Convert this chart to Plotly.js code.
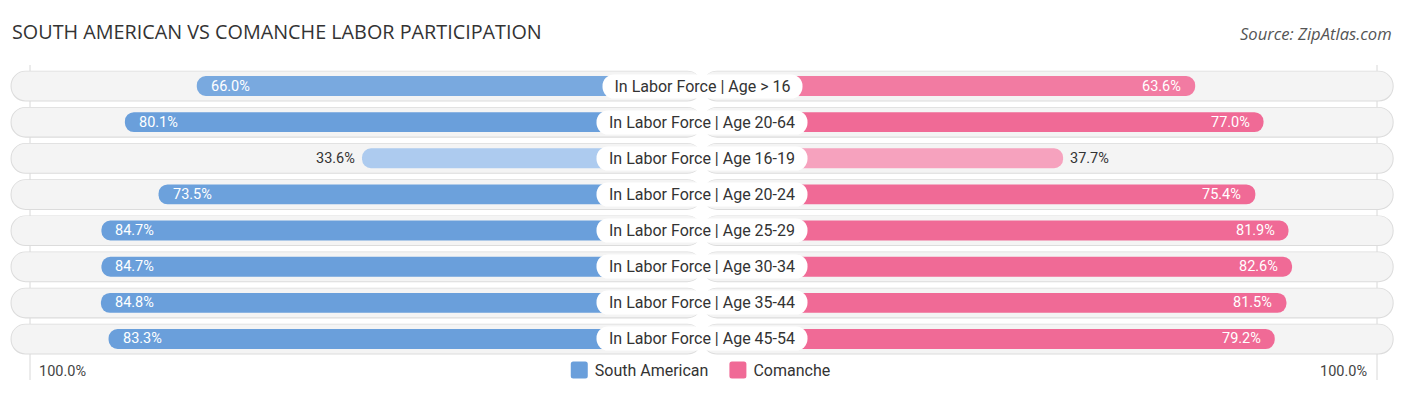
<!DOCTYPE html>
<html><head><meta charset="utf-8">
<script src="https://cdn.plot.ly/plotly-3.0.1.min.js"></script>
<style>html,body{margin:0;padding:0;background:#fff}#chart{width:1406px;height:395px}</style>
</head><body><div id="chart"></div>
<script>
// ---- data ----
const categories = [
  "In Labor Force | Age > 16",
  "In Labor Force | Age 20-64",
  "In Labor Force | Age 16-19",
  "In Labor Force | Age 20-24",
  "In Labor Force | Age 25-29",
  "In Labor Force | Age 30-34",
  "In Labor Force | Age 35-44",
  "In Labor Force | Age 45-54"
];
const southAmerican = [66.0, 80.1, 33.6, 73.5, 84.7, 84.7, 84.8, 83.3];
const comanche      = [63.6, 77.0, 37.7, 75.4, 81.9, 82.6, 81.5, 79.2];
const seriesNames = ["South American", "Comanche"];
const axisEndLabel = "100.0%";
const chartTitle = "SOUTH AMERICAN VS COMANCHE LABOR PARTICIPATION";
const sourceText = "Source: ZipAtlas.com";

// ---- style ----
const W = 1406, H = 395;
const PX_PER_UNIT = 5.1;       // pixels per percentage point
const CENTER_PX = 702.1;
const OFFSET = 33.08;          // hidden part of each bar under the centre label
const PILL_HALF = 135.4;
const ROW_PX = 36.14, FIRST_ROW_PX = 86;
const FONT = "Roboto, 'Open Sans', sans-serif";
const TITLE_FONT = "'Open Sans', Roboto, sans-serif";
const blueStrong = [106,159,219], blueLight = [176,205,240];
const pinkStrong = [240,106,150], pinkLight = [247,171,196];

function mix(a, b, t) {
  return "rgb(" + a.map((v, i) => Math.round(b[i] + (v - b[i]) * t)).join(",") + ")";
}
function shade(v, strong, light) {
  const t = Math.max(0, Math.min(1, (v - 32) / (75 - 32)));
  return mix(strong, light, t);
}
const fmt = v => v.toFixed(1) + "%";

const n = categories.length;
const idx = categories.map((_, i) => i);

const traces = [];
// background pills: a grey outline pill behind a light fill pill
[[0.85, PILL_HALF + 0.2, "#dcdcdc", 0.005], [0.8, PILL_HALF, "#f4f4f4", 0]].forEach(([w, half, col, dy]) => {
  [-1, 1].forEach(s => traces.push({
    type: "bar", orientation: "h", y: idx.map(i => i + dy), x: idx.map(() => s * half), base: 0,
    width: w, marker: {color: col, cornerradius: "50%", line: {width: 0}},
    hoverinfo: "skip", showlegend: false
  }));
});
// data bars
traces.push({
  type: "bar", orientation: "h", y: idx, x: southAmerican.map(v => -(OFFSET + v)), base: 0,
  width: 0.55, name: seriesNames[0], showlegend: false,
  marker: {color: southAmerican.map(v => shade(v, blueStrong, blueLight)), cornerradius: "50%"},
  customdata: southAmerican, hovertemplate: "%{customdata:.1f}%<extra>" + seriesNames[0] + "</extra>"
});
traces.push({
  type: "bar", orientation: "h", y: idx, x: comanche.map(v => OFFSET + v), base: 0,
  width: 0.55, name: seriesNames[1], showlegend: false,
  marker: {color: comanche.map(v => shade(v, pinkStrong, pinkLight)), cornerradius: "50%"},
  customdata: comanche, hovertemplate: "%{customdata:.1f}%<extra>" + seriesNames[1] + "</extra>"
});
// legend entries (zero-length bars, only shown in the legend)
[[seriesNames[0], blueStrong], [seriesNames[1], pinkStrong]].forEach(([nm, col]) => traces.push({
  type: "bar", orientation: "h", x: [0], y: [0], base: 0, width: 0.01, name: nm,
  marker: {color: mix(col, col, 1)}, showlegend: true, hoverinfo: "skip"
}));

// measure label widths
const cv = document.createElement("canvas").getContext("2d");
cv.font = "16px Roboto";

const annotations = [];
categories.forEach((c, i) => annotations.push({
  x: 0, y: i, xref: "x", yref: "y", text: c, showarrow: false,
  font: {family: FONT, size: 16, color: "#333"},
  bgcolor: "#ffffff", width: Math.ceil(cv.measureText(c).width) + 22, height: 22, borderpad: 0.5,
  xanchor: "center", yanchor: "middle"
}));
const INSIDE_MIN = 45;
southAmerican.forEach((v, i) => {
  const inside = v >= INSIDE_MIN;
  annotations.push({
    x: -(OFFSET + v), y: i, xref: "x", yref: "y", text: fmt(v), showarrow: false,
    font: {family: FONT, size: 14.5, color: inside ? "#ffffff" : "#333"},
    xanchor: inside ? "left" : "right", xshift: inside ? 12 : -5, yanchor: "middle"
  });
});
comanche.forEach((v, i) => {
  const inside = v >= INSIDE_MIN;
  annotations.push({
    x: OFFSET + v, y: i, xref: "x", yref: "y", text: fmt(v), showarrow: false,
    font: {family: FONT, size: 14.5, color: inside ? "#ffffff" : "#333"},
    xanchor: inside ? "right" : "left", xshift: inside ? -12 : 5, yanchor: "middle"
  });
});
annotations.push({x: 37 / W, y: 1 - 371 / H, xref: "paper", yref: "paper", text: axisEndLabel, showarrow: false,
  xanchor: "left", yanchor: "middle", font: {family: FONT, size: 14.5, color: "#444"}});
annotations.push({x: 1369 / W, y: 1 - 371 / H, xref: "paper", yref: "paper", text: axisEndLabel, showarrow: false,
  xanchor: "right", yanchor: "middle", font: {family: FONT, size: 14.5, color: "#444"}});
annotations.push({x: 1394 / W, y: 1 - 33 / H, xref: "paper", yref: "paper", text: sourceText, showarrow: false,
  xanchor: "right", yanchor: "middle", font: {family: TITLE_FONT, size: 16.6, color: "#555", style: "italic"}});

const yTop = -FIRST_ROW_PX / ROW_PX;
const yBottom = yTop + H / ROW_PX;

const layout = {
  width: W, height: H,
  margin: {l: 0, r: 0, t: 0, b: 0, pad: 0},
  paper_bgcolor: "#ffffff", plot_bgcolor: "#ffffff",
  barmode: "overlay",
  title: {text: chartTitle, x: 12 / W, xref: "container", xanchor: "left",
          y: 1 - 32.5 / H, yref: "container", yanchor: "middle",
          font: {family: TITLE_FONT, size: 19.8, color: "#333"}},
  xaxis: {range: [-CENTER_PX / PX_PER_UNIT, (W - CENTER_PX) / PX_PER_UNIT], showgrid: false, zeroline: false,
          showticklabels: false, showline: false, fixedrange: true},
  yaxis: {range: [yBottom, yTop], showgrid: false, zeroline: false, showticklabels: false,
          showline: false, fixedrange: true},
  showlegend: true,
  legend: {orientation: "h", x: 0.4945, xanchor: "center", y: 1 - 370 / H, yanchor: "middle",
           font: {family: FONT, size: 16, color: "#333"}, bgcolor: "rgba(0,0,0,0)", itemwidth: 30},
  shapes: [30, 1377].map(px => ({type: "line", xref: "paper", yref: "paper", x0: px / W, x1: px / W,
           y0: 1 - 65 / H, y1: 1 - 380 / H, line: {color: "#d8d8d8", width: 1}, layer: "below"})),
  annotations: annotations
};

function roundRect(x0, y0, w, h, r) {
  return `M${x0 + r},${y0}H${x0 + w - r}A${r},${r} 0 0 1 ${x0 + w},${y0 + r}V${y0 + h - r}` +
         `A${r},${r} 0 0 1 ${x0 + w - r},${y0 + h}H${x0 + r}A${r},${r} 0 0 1 ${x0},${y0 + h - r}` +
         `V${y0 + r}A${r},${r} 0 0 1 ${x0 + r},${y0}Z`;
}

Plotly.newPlot("chart", traces, layout, {displayModeBar: false}).then(gd => {
  gd.querySelectorAll(".annotation").forEach(g => {
    const i = +g.getAttribute("data-index");
    if (i < n) {
      const r = g.querySelector("rect.bg");
      if (r) { r.setAttribute("rx", 11.5); r.setAttribute("ry", 11.5); }
    }
  });
  // larger rounded legend swatches
  gd.querySelectorAll(".legend .legendpoints path").forEach(p => {
    p.setAttribute("d", roundRect(-4, -8.5, 17, 17, 2.5));
  });
});
</script>
</body></html>
